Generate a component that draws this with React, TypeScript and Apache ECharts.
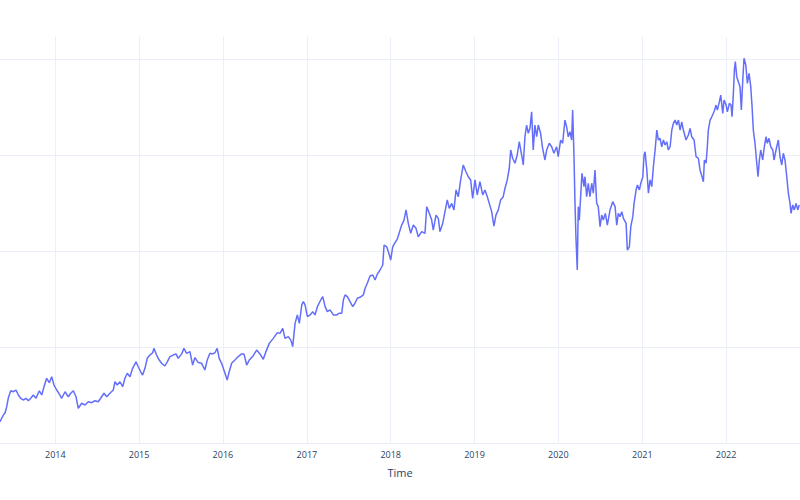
import React, { useEffect, useRef } from "react";
import * as echarts from "echarts";

// Time as decimal years
const years: number[] = [
  2013.340, 2013.380, 2013.400, 2013.420, 2013.439, 2013.468, 2013.499, 2013.531, 2013.559, 2013.587,
  2013.618, 2013.651, 2013.678, 2013.707, 2013.738, 2013.770, 2013.809, 2013.838, 2013.865, 2013.897,
  2013.928, 2013.957, 2013.984, 2014.017, 2014.048, 2014.076, 2014.116, 2014.155, 2014.184, 2014.215,
  2014.247, 2014.274, 2014.315, 2014.354, 2014.394, 2014.434, 2014.474, 2014.513, 2014.553, 2014.581,
  2014.613, 2014.652, 2014.692, 2014.712, 2014.739, 2014.772, 2014.804, 2014.831, 2014.859, 2014.891,
  2014.923, 2014.963, 2014.990, 2015.019, 2015.042, 2015.070, 2015.097, 2015.129, 2015.162, 2015.177,
  2015.209, 2015.240, 2015.269, 2015.308, 2015.336, 2015.368, 2015.407, 2015.440, 2015.467, 2015.508,
  2015.535, 2015.567, 2015.607, 2015.639, 2015.666, 2015.706, 2015.746, 2015.785, 2015.813, 2015.845,
  2015.877, 2015.905, 2015.932, 2015.956, 2015.985, 2016.012, 2016.051, 2016.075, 2016.104, 2016.143,
  2016.183, 2016.223, 2016.251, 2016.283, 2016.314, 2016.354, 2016.402, 2016.441, 2016.481, 2016.513,
  2016.552, 2016.600, 2016.648, 2016.680, 2016.712, 2016.740, 2016.779, 2016.808, 2016.831, 2016.859,
  2016.886, 2016.910, 2016.939, 2016.958, 2016.978, 2017.006, 2017.038, 2017.070, 2017.097, 2017.125,
  2017.165, 2017.189, 2017.217, 2017.244, 2017.276, 2017.316, 2017.356, 2017.387, 2017.416, 2017.435,
  2017.455, 2017.483, 2017.515, 2017.547, 2017.574, 2017.602, 2017.634, 2017.674, 2017.694, 2017.721,
  2017.753, 2017.786, 2017.813, 2017.841, 2017.873, 2017.905, 2017.921, 2017.953, 2017.984, 2018.000,
  2018.024, 2018.052, 2018.079, 2018.103, 2018.131, 2018.159, 2018.183, 2018.210, 2018.239, 2018.270,
  2018.302, 2018.329, 2018.370, 2018.409, 2018.430, 2018.461, 2018.489, 2018.508, 2018.541, 2018.568,
  2018.588, 2018.621, 2018.648, 2018.675, 2018.699, 2018.728, 2018.755, 2018.780, 2018.807, 2018.835,
  2018.866, 2018.898, 2018.926, 2018.954, 2018.978, 2019.006, 2019.033, 2019.065, 2019.098, 2019.125,
  2019.153, 2019.176, 2019.205, 2019.232, 2019.256, 2019.284, 2019.312, 2019.343, 2019.364, 2019.391,
  2019.415, 2019.432, 2019.455, 2019.483, 2019.510, 2019.534, 2019.563, 2019.582, 2019.602, 2019.622,
  2019.642, 2019.662, 2019.682, 2019.701, 2019.721, 2019.742, 2019.761, 2019.789, 2019.813, 2019.841,
  2019.861, 2019.892, 2019.921, 2019.948, 2019.980, 2019.999, 2020.028, 2020.052, 2020.079, 2020.099,
  2020.119, 2020.139, 2020.159, 2020.171, 2020.187, 2020.198, 2020.210, 2020.226, 2020.238, 2020.250,
  2020.266, 2020.282, 2020.306, 2020.318, 2020.338, 2020.357, 2020.377, 2020.398, 2020.417, 2020.437,
  2020.457, 2020.476, 2020.497, 2020.517, 2020.536, 2020.560, 2020.584, 2020.616, 2020.648, 2020.676,
  2020.696, 2020.715, 2020.735, 2020.756, 2020.775, 2020.807, 2020.822, 2020.846, 2020.863, 2020.887,
  2020.902, 2020.926, 2020.942, 2020.966, 2020.982, 2021.006, 2021.021, 2021.033, 2021.054, 2021.073,
  2021.093, 2021.113, 2021.132, 2021.153, 2021.173, 2021.192, 2021.212, 2021.232, 2021.252, 2021.272,
  2021.292, 2021.311, 2021.332, 2021.352, 2021.371, 2021.391, 2021.411, 2021.431, 2021.451, 2021.471,
  2021.490, 2021.522, 2021.550, 2021.570, 2021.590, 2021.618, 2021.642, 2021.669, 2021.689, 2021.713,
  2021.729, 2021.741, 2021.761, 2021.776, 2021.788, 2021.809, 2021.829, 2021.856, 2021.880, 2021.896,
  2021.920, 2021.936, 2021.960, 2021.976, 2022.000, 2022.015, 2022.039, 2022.059, 2022.071, 2022.087,
  2022.099, 2022.110, 2022.127, 2022.146, 2022.166, 2022.182, 2022.199, 2022.214, 2022.235, 2022.254,
  2022.274, 2022.294, 2022.310, 2022.325, 2022.345, 2022.366, 2022.381, 2022.397, 2022.413, 2022.437,
  2022.456, 2022.477, 2022.492, 2022.512, 2022.533, 2022.557, 2022.572, 2022.596, 2022.623, 2022.644,
  2022.664, 2022.683, 2022.703, 2022.724, 2022.743, 2022.763, 2022.775, 2022.795, 2022.814, 2022.835,
  2022.855, 2022.874, 2022.882,
];

const values: number[] = [
  61.1, 64.6, 65.6, 68.9, 73.4, 77.2, 76.7, 77.6, 75.0, 73.3,
  72.4, 73.3, 72.0, 73.3, 75.0, 73.3, 77.2, 75.0, 79.3, 83.7,
  81.4, 84.5, 80.2, 77.6, 75.5, 73.3, 76.7, 74.1, 75.9, 77.2,
  74.1, 68.1, 70.7, 69.8, 71.5, 71.0, 72.0, 71.5, 74.1, 75.9,
  74.1, 75.9, 77.6, 81.9, 80.2, 81.9, 79.3, 83.7, 86.3, 84.5,
  88.9, 92.3, 89.7, 87.1, 85.4, 88.9, 94.1, 95.8, 97.0, 99.3,
  95.8, 93.2, 91.5, 90.1, 92.3, 95.0, 95.8, 96.4, 94.1, 96.4,
  99.3, 96.7, 97.6, 90.6, 94.5, 91.9, 91.5, 88.0, 93.2, 96.7,
  96.4, 97.0, 99.3, 94.1, 91.5, 88.0, 82.8, 87.1, 91.5, 93.2,
  95.0, 96.4, 96.4, 90.6, 93.2, 95.0, 98.4, 96.4, 93.6, 97.6,
  101.9, 104.5, 107.5, 107.1, 109.7, 104.5, 105.4, 103.6, 100.2, 112.3,
  116.7, 112.3, 121.9, 123.6, 121.9, 115.8, 116.7, 118.4, 116.7, 121.0,
  124.5, 126.2, 121.0, 118.4, 119.3, 116.7, 116.7, 117.6, 117.6, 124.5,
  127.1, 126.2, 123.6, 121.0, 122.8, 125.4, 125.9, 127.1, 130.6, 133.2,
  137.0, 137.5, 134.9, 138.0, 140.1, 142.7, 153.1, 152.2, 147.9, 145.3,
  152.2, 154.4, 156.2, 159.6, 163.5, 166.1, 171.4, 164.4, 159.2, 163.5,
  161.8, 157.4, 160.1, 159.2, 173.1, 169.6, 166.1, 160.9, 168.7, 167.0,
  160.1, 164.4, 170.5, 176.6, 172.2, 174.8, 171.4, 181.8, 178.3, 187.0,
  194.8, 191.3, 188.7, 187.0, 177.4, 187.0, 179.2, 186.1, 179.2, 181.8,
  178.3, 174.8, 170.5, 163.0, 168.7, 171.4, 176.6, 178.3, 182.7, 187.0,
  193.1, 202.6, 198.3, 195.7, 200.0, 206.9, 200.0, 194.8, 209.5, 215.6,
  211.3, 213.9, 222.5, 202.6, 215.6, 209.5, 215.6, 211.3, 203.5, 197.4,
  202.6, 206.1, 204.3, 200.9, 204.3, 199.1, 207.8, 206.1, 218.2, 214.7,
  209.5, 212.1, 207.8, 223.4, 199.1, 176.6, 157.4, 140.1, 173.1, 166.1,
  178.3, 190.5, 183.5, 188.7, 178.3, 185.3, 178.3, 185.3, 180.1, 192.2,
  174.8, 173.1, 162.7, 168.7, 166.1, 169.6, 163.5, 171.4, 175.7, 173.1,
  163.5, 169.6, 167.9, 170.5, 167.0, 164.4, 150.5, 152.2, 162.7, 167.9,
  174.8, 181.8, 184.4, 181.8, 185.3, 188.7, 200.0, 201.7, 192.2, 180.1,
  187.0, 183.5, 193.9, 202.6, 213.0, 207.8, 208.7, 204.3, 207.8, 205.2,
  206.9, 202.6, 204.3, 213.0, 216.5, 218.2, 215.6, 218.2, 213.0, 217.3,
  213.0, 207.8, 210.4, 213.9, 209.5, 207.8, 199.1, 198.3, 192.2, 188.7,
  186.1, 197.4, 195.7, 204.3, 213.0, 218.2, 219.9, 222.5, 226.0, 223.4,
  227.8, 231.2, 221.7, 228.6, 226.0, 222.5, 226.9, 226.0, 219.9, 232.1,
  244.3, 248.6, 240.8, 238.2, 235.6, 223.4, 239.1, 250.4, 246.9, 237.3,
  242.5, 235.6, 225.2, 213.0, 206.1, 195.7, 188.7, 197.4, 202.6, 197.4,
  204.3, 209.5, 206.1, 208.7, 204.3, 202.6, 197.4, 202.6, 207.8, 199.1,
  194.8, 200.9, 197.4, 188.7, 180.1, 174.8, 169.6, 174.0, 171.4, 174.8,
  171.4, 174.0, 174.0,
];

const xStart = 2013.34;
const xEnd = 2022.882;
const yMin = 50;
const yMax = 261.46;
const yStep = 50;

function decToTime(d: number): number {
  const y = Math.floor(d);
  const s = new Date(y, 0, 1).getTime();
  const e = new Date(y + 1, 0, 1).getTime();
  return s + (d - y) * (e - s);
}

export default function App() {
  const ref = useRef<HTMLDivElement>(null);

  useEffect(() => {
    if (!ref.current) return;
    const chart = echarts.init(ref.current, undefined, { renderer: "svg" });
    const data = years.map((y, i) => [decToTime(y), values[i]]);
    const ONE_YEAR = 365 * 24 * 3600 * 1000;
    chart.setOption({
      animation: false,
      backgroundColor: "#ffffff",
      textStyle: { fontFamily: "Open Sans" },
      grid: { left: 0, right: 0, top: 37, bottom: 57 },
      xAxis: {
        type: "time",
        min: decToTime(xStart),
        max: decToTime(xEnd),
        splitNumber: 10,
        minInterval: ONE_YEAR,
        name: "Time",
        nameLocation: "middle",
        nameGap: 24,
        nameTextStyle: { color: "#2a3f5f", fontSize: 11, fontFamily: "Open Sans" },
        axisLine: { show: false },
        axisTick: { show: false },
        axisLabel: {
          color: "#2a3f5f",
          fontSize: 9,
          fontFamily: "Open Sans",
          margin: 7,
          showMinLabel: false,
          showMaxLabel: false,
          formatter: (val: number) => {
            const d = new Date(val);
            return d.getMonth() === 0 && d.getDate() === 1 ? String(d.getFullYear()) : "";
          },
        },
        splitLine: {
          show: true,
          showMinLine: false,
          showMaxLine: false,
          lineStyle: { color: "#ebf0f8", width: 1 },
        },
      },
      yAxis: {
        type: "value",
        min: yMin,
        max: yMax,
        interval: yStep,
        axisLine: { show: false },
        axisTick: { show: false },
        axisLabel: { show: false },
        splitLine: {
          show: true,
          showMaxLine: false,
          lineStyle: { color: "#ebf0f8", width: 1 },
        },
      },
      series: [
        {
          type: "line",
          data,
          showSymbol: false,
          symbol: "none",
          lineStyle: { color: "#636efa", width: 1.5 },
          itemStyle: { color: "#636efa" },
        },
      ],
    });
    return () => chart.dispose();
  }, []);

  return (
    <div
      ref={ref}
      style={{ position: "fixed", left: 0, top: 0, width: 800, height: 500, background: "#fff" }}
    />
  );
}
